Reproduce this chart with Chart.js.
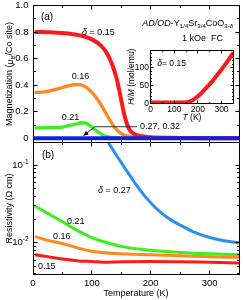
<!DOCTYPE html>
<html><head><meta charset="utf-8">
<script src="https://cdn.jsdelivr.net/npm/chart.js@4.4.1/dist/chart.umd.min.js"></script>
<style>
html,body{margin:0;padding:0;background:#fff;}
#wrap{position:relative;width:243px;height:300px;overflow:hidden;background:#fff;}
canvas{position:absolute;}
</style></head><body>
<div id="wrap">
<canvas id="cTop" width="243" height="143" style="left:0px;top:0px;z-index:1"></canvas>
<canvas id="cBot" width="243" height="158" style="left:0px;top:142px;z-index:1"></canvas>
<canvas id="cIn" width="125" height="85" style="left:118px;top:40px;z-index:2"></canvas>
</div>
<script>
// ---------- data ----------
// (a) Magnetization vs T
const tM015 = [3,30,60,80,100,115,125,135,142,148,153,158,164,172,185,200,250,300,350];
const mag015 = [0.800,0.798,0.790,0.775,0.745,0.700,0.645,0.550,0.450,0.330,0.220,0.130,0.065,0.032,0.015,0.008,0.003,0.001,0.000];
const tM016 = [3,20,40,60,77,90,100,110,120,130,140,150,160,175,200,250,350];
const mag016 = [0.345,0.350,0.370,0.395,0.405,0.385,0.345,0.290,0.220,0.140,0.075,0.035,0.017,0.008,0.004,0.001,0.000];
const tM021 = [3,25,50,70,83,92,100,108,115,122,130,145,200,350];
const mag021 = [0.078,0.080,0.085,0.105,0.117,0.110,0.085,0.055,0.035,0.017,0.008,0.003,0.001,0.000];
const tM027 = [0,350];
const mag027 = [0,0];
// (b) Resistivity vs T
const tR015 = [3,20,50,80,100,120,150,200,250,300,350];
const rho015 = [0.0070,0.0067,0.0062,0.0058,0.00575,0.0056,0.0057,0.00575,0.0057,0.0056,0.0055];
const tR016 = [3,25,50,75,100,150,200,250,300,350];
const rho016 = [0.0120,0.0108,0.0098,0.0086,0.0078,0.0072,0.0070,0.0068,0.0066,0.0065];
const tR021 = [3,25,50,75,100,125,150,200,250,300,350];
const rho021 = [0.0298,0.0240,0.0187,0.0145,0.0117,0.0101,0.0090,0.0080,0.0075,0.0072,0.0070];
const tR027 = [120,128,140,153,165,176,190,210,230,255,275,295,320,350];
const rho027 = [0.24,0.197,0.141,0.100,0.073,0.055,0.040,0.0275,0.0207,0.0162,0.0136,0.0120,0.0108,0.0100];
// inset H/M vs T (delta = 0.15)
const tInv = [0,50,100,140,160,175,195,215,237,260,280,300,322,350];
const invM015 = [2,2,2,2.5,4,8,17,29,45,61,78,95,115,143];
// tick labels
const magTicks = [0,0.2,0.4,0.6,0.8,1.0];
const tempTicks = [0,100,200,300];
const rhoTicks = [0.01,0.1];
const invTicks = [0,50,100];

// ---------- helpers ----------
const FONT = '"Liberation Sans", Arial, Helvetica, sans-serif';
Chart.defaults.font.family = FONT;
Chart.defaults.color = '#000';
const RED='#ff1a1a', ORANGE='#ff8a1c', GREEN='#3cef1e', LBLUE='#2a8ef0', DBLUE='#0a22e8';

function pts(xs, ys){ return xs.map((x,i)=>({x:x, y:ys[i]})); }
function ds(xs, ys, color, w){
  return {data:pts(xs,ys), borderColor:color, borderWidth:w, pointRadius:0, fill:false,
          cubicInterpolationMode:'monotone', borderCapStyle:'butt'};
}
function crisp(v){ return Math.round(v-0.5)+0.5; }
function fontFor(s,size){
  const sz = (s.sub||s.sup) ? Math.round(size*0.68*10)/10 : size;
  return (s.it?'italic ':'') + sz + 'px ' + FONT;
}
function drawRich(ctx, segs, x, y, align, size, rotate){
  ctx.save();
  ctx.translate(x,y);
  if(rotate) ctx.rotate(-Math.PI/2);
  ctx.textBaseline='middle'; ctx.fillStyle='#000';
  if(segs.length===1 && !segs[0].sub && !segs[0].sup){
    ctx.font=fontFor(segs[0],size); ctx.textAlign=align; ctx.fillText(segs[0].t,0,0);
    ctx.restore(); return;
  }
  let total=0; const ws=[];
  for(const s of segs){ ctx.font=fontFor(s,size); const w=ctx.measureText(s.t).width; ws.push(w); total+=w; }
  let cx = align==='center' ? -total/2 : (align==='right' ? -total : 0);
  ctx.textAlign='left';
  segs.forEach((s,i)=>{
    ctx.font=fontFor(s,size);
    const dy = s.sub ? size*0.32 : (s.sup ? -size*0.38 : 0);
    ctx.fillText(s.t, cx, dy);
    cx += ws[i];
  });
  ctx.restore();
}

function makeFrame(o){
  return {
    id:'frameTicks',
    afterDatasetsDraw(chart){
      const {ctx, chartArea:a, scales} = chart;
      ctx.save();
      ctx.strokeStyle='#000'; ctx.lineWidth=1;
      const L=crisp(a.left), R=crisp(a.right), T=crisp(a.top), B=crisp(a.bottom);
      ctx.strokeRect(L,T,R-L,B-T);
      ctx.beginPath();
      for(const [vals,len] of [[o.xMajor,o.majLen],[o.xMinor,o.minLen]]){
        for(const v of vals){
          const p=crisp(scales.x.getPixelForValue(v));
          ctx.moveTo(p,B); ctx.lineTo(p,B-len);
          ctx.moveTo(p,T); ctx.lineTo(p,T+len);
        }
      }
      for(const [vals,len] of [[o.yMajor,o.majLen],[o.yMinor,o.minLen]]){
        for(const v of vals){
          const p=crisp(scales.y.getPixelForValue(v));
          ctx.moveTo(L,p); ctx.lineTo(L+len,p);
          ctx.moveTo(R,p); ctx.lineTo(R-len,p);
        }
      }
      ctx.stroke();
      ctx.restore();
    }
  };
}

// host: optional {chart, dx, dy} — draw items in another chart's coordinates (offset to this canvas)
function makeLabels(items, arrow, host){
  return {
    id:'richLabels',
    afterDatasetsDraw(chart){
      const ctx = chart.ctx;
      const src = host ? host.chart : chart;
      const dx = host ? host.dx : 0, dy = host ? host.dy : 0;
      const a = src.chartArea, scales = src.scales;
      for(const it of items){
        let x, y;
        if(it.kind==='yTitle'){ x=a.left-it.off; y=(a.top+a.bottom)/2; }
        else if(it.kind==='xTitle'){ x=(a.left+a.right)/2; y=a.bottom+it.off; }
        else if(it.kind==='yTick'){ x=a.left-it.off; y=scales.y.getPixelForValue(it.y); }
        else if(it.kind==='xTick'){ x=scales.x.getPixelForValue(it.x); y=a.bottom+it.off; }
        else { x=scales.x.getPixelForValue(it.x); y=scales.y.getPixelForValue(it.y); }
        drawRich(ctx, it.segs, x+dx, y+dy, it.align||'left', it.size||9, !!it.rotate);
      }
      if(arrow){
        const p=arrow.map(q=>[scales.x.getPixelForValue(q[0]), scales.y.getPixelForValue(q[1])]);
        ctx.save();
        ctx.strokeStyle='#000'; ctx.fillStyle='#000'; ctx.lineWidth=0.8;
        ctx.beginPath(); ctx.moveTo(p[0][0],p[0][1]);
        for(let i=1;i<p.length;i++) ctx.lineTo(p[i][0],p[i][1]);
        ctx.stroke();
        const n=p.length, tip=p[n-1], prev=p[n-2];
        const ang=Math.atan2(tip[1]-prev[1], tip[0]-prev[0]);
        const hl=5, hw=2.3;
        ctx.beginPath();
        ctx.moveTo(tip[0],tip[1]);
        ctx.lineTo(tip[0]-hl*Math.cos(ang)+hw*Math.sin(ang), tip[1]-hl*Math.sin(ang)-hw*Math.cos(ang));
        ctx.lineTo(tip[0]-hl*Math.cos(ang)-hw*Math.sin(ang), tip[1]-hl*Math.sin(ang)+hw*Math.cos(ang));
        ctx.closePath(); ctx.fill();
        ctx.restore();
      }
    }
  };
}

const D = (t)=>[{t:'δ',it:true},{t:t}];
const base = {responsive:false, maintainAspectRatio:false, animation:false, devicePixelRatio:1, events:[]};
function hidden(extra){
  return Object.assign({grid:{display:false, drawTicks:false}, border:{display:false}, ticks:{display:false}}, extra);
}
const noPlug = {legend:{display:false}, tooltip:{enabled:false}, title:{display:false}};

// ---------- inset H/M (built first so the main panel can place its tick labels) ----------
const insetItems = [
  {segs:[{t:'δ',it:true},{t:'= 0.15'}], x:28, y:110.6, size:8.5},
  {kind:'yTitle', off:19.2, rotate:true, align:'center', size:8.5, segs:[{t:'H/M',it:true},{t:' (mol/emu)'}]},
  {kind:'xTitle', off:14.2, align:'center', size:8.5, segs:[{t:'T',it:true},{t:' (K)'}]}
];
const insetTickItems = [];
tempTicks.forEach(v=>insetTickItems.push({kind:'xTick', x:v, off:6.4, align:'center', size:8.5, segs:[{t:String(v)}]}));
invTicks.forEach(v=>insetTickItems.push({kind:'yTick', y:v, off:1.8, align:'right', size:8.5, segs:[{t:String(v)}]}));

const insetChart = new Chart(document.getElementById('cIn'), {
  type:'line',
  data:{datasets:[ ds(tInv, invM015, RED, 4) ]},
  options:Object.assign({}, base, {
    layout:{autoPadding:false, padding:{left:0,right:9.7,top:10,bottom:0}},
    plugins:noPlug,
    scales:{
      x:hidden({type:'linear', min:0, max:350, afterFit(s){ s.height=21.7; }}),
      y:hidden({type:'linear', min:0, max:150, afterFit(s){ s.width=32.7; }})
    }
  }),
  plugins:[
    makeFrame({xMajor:[100,200,300], xMinor:[50,150,250], yMajor:[50,100], yMinor:[10,20,30,40,60,70,80,90,110,120,130,140], majLen:3, minLen:1.5}),
    makeLabels(insetItems, null)
  ]
});

// ---------- (a) magnetization ----------
const topItems = [
  {segs:[{t:'(a)'}], x:23.8, y:0.913, align:'center', size:10},
  {segs:D(' = 0.15'), x:83.2, y:0.80},
  {segs:[{t:'AD/OD',it:true},{t:'-Y'},{t:'1/4',sub:true},{t:'Sr'},{t:'3/4',sub:true},{t:'CoO'},{t:'3-',sub:true},{t:'δ',sub:true,it:true}], x:340, y:0.868, align:'right'},
  {segs:[{t:'1 kOe  FC'}], x:323, y:0.748, align:'right'},
  {segs:[{t:'0.16'}], x:80.7, y:0.462, align:'center'},
  {segs:[{t:'0.21'}], x:63.7, y:0.160, align:'center'},
  {segs:[{t:'0.27, 0.32'}], x:181.8, y:0.087},
  {kind:'yTitle', off:23, rotate:true, align:'center', segs:[{t:'Magnetization ('},{t:'μ',it:true},{t:'B',sub:true},{t:'/Co site)'}]}
];
magTicks.forEach(v=>topItems.push({kind:'yTick', y:v, off:4.5, align:'right', size:9.5, segs:[{t: v===0 ? '0' : v.toFixed(1)}]}));

new Chart(document.getElementById('cTop'), {
  type:'line',
  data:{datasets:[
    ds(tM027, mag027, DBLUE, 4),
    ds(tM015, mag015, RED, 4),
    ds(tM016, mag016, ORANGE, 3.3),
    ds(tM021, mag021, GREEN, 3.3)
  ]},
  options:Object.assign({}, base, {
    layout:{autoPadding:false, padding:{left:0,right:4,top:5.5,bottom:0.5}},
    plugins:noPlug,
    scales:{
      x:{type:'linear', min:0, max:350, display:false},
      y:hidden({type:'linear', min:-0.0316, max:1.0, afterFit(s){ s.width=33; }})
    }
  }),
  plugins:[
    makeFrame({xMajor:[100,200,300], xMinor:[50,150,250], yMajor:[0.2,0.4,0.6,0.8], yMinor:[0.1,0.3,0.5,0.7,0.9], majLen:4, minLen:2.5}),
    makeLabels(topItems, [[176.7,0.087],[105.3,0.087],[85.5,0.02]]),
    Object.assign(makeLabels(insetTickItems, null, {chart:insetChart, dx:118, dy:40}), {id:'insetTickLabels'})
  ]
});

// ---------- (b) resistivity ----------
const botItems = [
  {segs:[{t:'(b)'}], x:25.5, y:0.136, align:'center', size:10},
  {segs:D(' = 0.27'), x:110.4, y:0.0469},
  {segs:[{t:'0.21'}], x:57.8, y:0.0187},
  {segs:[{t:'0.16'}], x:34, y:0.0120},
  {segs:[{t:'0.15'}], x:8.5, y:0.00492},
  {kind:'yTick', off:4.5, y:rhoTicks[1], align:'right', size:9.5, segs:[{t:'10'},{t:'-1',sup:true}]},
  {kind:'yTick', off:4.5, y:rhoTicks[0], align:'right', size:9.5, segs:[{t:'10'},{t:'-2',sup:true}]},
  {kind:'yTitle', off:23, rotate:true, align:'center', segs:[{t:'Resistivity (Ω cm)'}]},
  {kind:'xTitle', off:19.5, align:'center', segs:[{t:'Temperature (K)'}]}
];
tempTicks.forEach(v=>botItems.push({kind:'xTick', x:v, off:9, align:'center', size:9.5, segs:[{t:String(v)}]}));

new Chart(document.getElementById('cBot'), {
  type:'line',
  data:{datasets:[
    ds(tR027, rho027, LBLUE, 3),
    ds(tR015, rho015, RED, 3),
    ds(tR016, rho016, ORANGE, 3),
    ds(tR021, rho021, GREEN, 3)
  ]},
  options:Object.assign({}, base, {
    layout:{autoPadding:false, padding:{left:0,right:4,top:0.5,bottom:0}},
    plugins:noPlug,
    scales:{
      x:hidden({type:'linear', min:0, max:350, afterFit(s){ s.height=25.5; }}),
      y:hidden({type:'logarithmic', min:0.0039, max:0.197, afterFit(s){ s.width=33; }})
    }
  }),
  plugins:[
    makeFrame({xMajor:[100,200,300], xMinor:[50,150,250],
               yMajor:[0.01,0.1], yMinor:[0.004,0.005,0.006,0.007,0.008,0.009,0.02,0.03,0.04,0.05,0.06,0.07,0.08,0.09],
               majLen:4, minLen:2.5}),
    makeLabels(botItems, null)
  ]
});
</script>
</body></html>
